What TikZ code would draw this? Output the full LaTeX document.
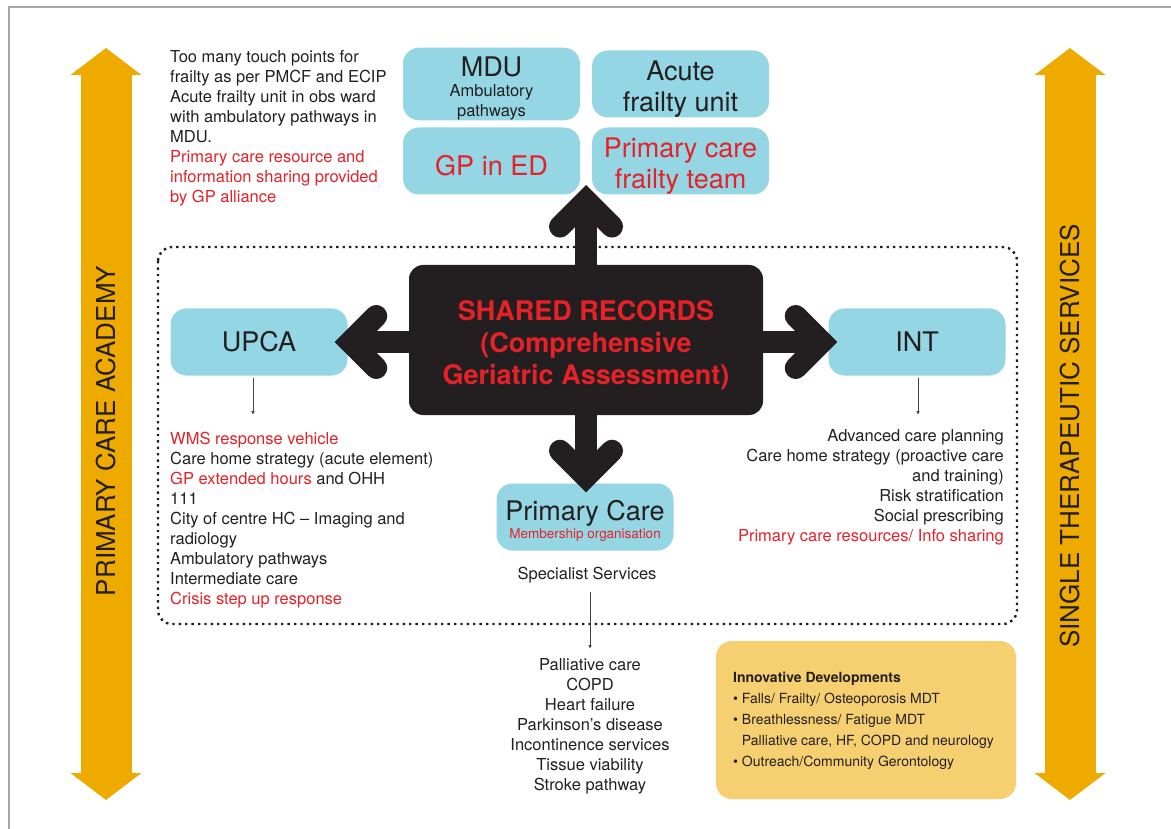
\documentclass[tikz,border=0pt]{standalone}
\usepackage{fontspec}
\setmainfont{TeX Gyre Heros}
\usepackage{xcolor}
\usetikzlibrary{positioning, calc, arrows.meta}

\definecolor{boxblue}{RGB}{148,214,227}
\definecolor{pcred}{RGB}{230,33,40}
\definecolor{inkblack}{RGB}{35,31,32}
\definecolor{gold}{RGB}{239,170,0}
\definecolor{devyellow}{RGB}{246,208,112}

\newcommand{\notefont}{\fontsize{16.5}{20}\selectfont}
\newcommand{\titlefont}{\fontsize{27}{31}\selectfont}
\newcommand{\subfont}{\fontsize{16.5}{20}\selectfont}
\newcommand{\hubfont}{\fontsize{27}{32}\selectfont\bfseries}
\newcommand{\devfont}{\fontsize{14}{21}\selectfont}
\newcommand{\tstrut}{\rule{0pt}{29pt}}

\begin{document}
\begin{tikzpicture}[
    x=1pt, y=-1pt,
    box/.style={fill=boxblue, rounded corners=16pt, inner sep=0pt, align=center, text=inkblack, font=\titlefont, minimum width=177pt, minimum height=67pt},
    hub/.style={fill=inkblack, rounded corners=14pt, inner sep=0pt, minimum width=354pt, minimum height=150pt},
    hubtext/.style={inner sep=0pt, align=center, text=pcred, font=\hubfont},
    note/.style={inner sep=0pt, text=inkblack, font=\notefont},
    side/.style={inner sep=0pt, text=inkblack, font=\fontsize{26}{30}\selectfont, rotate=90},
    bigarr/.style={draw=inkblack, line width=22pt, -{Straight Barb[length=26pt, width=52pt, line width=22pt, line cap=round, line join=miter]}},
    thinarr/.style={draw=inkblack!85, line width=0.8pt, -{Latex[length=4pt, width=3.5pt]}},
    goldarr/.style={draw=gold, line width=51pt, {Triangle[length=27pt, width=71pt, line width=0pt]}-{Triangle[length=27pt, width=71pt, line width=0pt]}},
    dotframe/.style={draw=inkblack, line width=2.4pt, dash pattern=on 2.4pt off 4pt, rounded corners=14pt},
]
\useasboundingbox (0,0) rectangle (1171,829);

% page frame
\draw[gray!70, line width=1.2pt] (1171,7) -- (9,7) -- (9,829);

% side arrows
\coordinate (pcaTop) at (106,48);
\coordinate (pcaBot) at (106,800);
\draw[goldarr] (pcaBot) -- (pcaTop);
\node[side] (pca) at (106,431) {PRIMARY CARE ACADEMY};

\coordinate (stsTop) at (1070,48);
\coordinate (stsBot) at (1070,800);
\draw[goldarr] (stsBot) -- (stsTop);
\node[side] (sts) at (1070,436) {SINGLE THERAPEUTIC SERVICES};

% shared records area
\draw[dotframe] (158,247) rectangle (1017,624);

% acute side
\node[note, anchor=north west, align=left] (touch) at (170,50)
  {Too many touch points for\\frailty as per PMCF and ECIP\\Acute frailty unit in obs ward\\with ambulatory pathways in\\MDU.\\
   \textcolor{pcred}{Primary care resource and}\\\textcolor{pcred}{information sharing provided}\\\textcolor{pcred}{by GP alliance}};

\node[box] (mdu) at (491.5,84) {\tstrut MDU\\[-11pt]\subfont Ambulatory\\[-11pt]\subfont pathways};
\node[box] (afu) at (680.5,84) {\tstrut Acute\\frailty unit};
\node[box, text=pcred] (gped) at (491.5,161) {\tstrut GP in ED};
\node[box, text=pcred] (pcft) at (680.5,161) {\tstrut Primary care\\frailty team};

% hub
\node[box] (upca) at (259,342) {UPCA};
\node[box] (int) at (917,342) {INT};
\node[box] (pcare) at (585,517) {\rule{0pt}{27pt}Primary Care\\[-13pt]{\fontsize{13.5}{16}\selectfont\textcolor{pcred}{Membership organisation}}};

\coordinate (uptip) at (586,185);
\node[hub] (shared) at (586,340) {};
\node[hubtext] (sharedtxt) at (586,345) {SHARED RECORDS\\(Comprehensive\\Geriatric Assessment)};
\draw[bigarr] (shared.north) -- (uptip);
\draw[bigarr] (upca.east -| shared.west) -- (upca.east) [shorten >=-13pt];
\draw[bigarr] (int.west -| shared.east) -- (int.west) [shorten >=-9pt];
\draw[bigarr] (shared.south) -- (shared.south |- pcare.north) [shorten >=-9pt];

% lists
\node[note, anchor=north west, align=left] (upcalist) at (170,432)
  {\textcolor{pcred}{WMS response vehicle}\\Care home strategy (acute element)\\\textcolor{pcred}{GP extended hours} and OHH\\111\\
   City of centre HC -- Imaging and\\radiology\\Ambulatory pathways\\Intermediate care\\\textcolor{pcred}{Crisis step up response}};
\draw[thinarr, shorten <=2pt, shorten >=17pt] ([xshift=-6pt]upca.south) -- ([xshift=-6pt]upca.south |- upcalist.north);

\node[note, anchor=north east, align=right] (intlist) at (1004,429)
  {Advanced care planning\\Care home strategy (proactive care\\and training)\\Risk stratification\\Social prescribing\\
   \textcolor{pcred}{Primary care resources/ Info sharing}};
\draw[thinarr, shorten <=2pt, shorten >=14pt] ([xshift=1pt]int.south) -- ([xshift=1pt]int.south |- intlist.north);

\node[note] (spec) at (587,575) {Specialist Services};
\node[note, anchor=north, align=center] (speclist) at (590,658)
  {Palliative care\\COPD\\Heart failure\\Parkinson's disease\\Incontinence services\\Tissue viability\\Stroke pathway};
\draw[thinarr, shorten <=9pt, shorten >=9pt] ([xshift=3pt]spec.south) -- ([xshift=3pt]spec.south |- speclist.north);

% innovative developments
\node[fill=devyellow, rounded corners=16pt, minimum width=300pt, minimum height=158pt] (innov) at (866,720) {};
\node[inner sep=0pt, anchor=north west, align=left, text=inkblack, font=\devfont] (innovtxt) at (733,672)
  {\textbf{Innovative Developments}\\\textbullet\ Falls/ Frailty/ Osteoporosis MDT\\\textbullet\ Breathlessness/ Fatigue MDT\\
   \phantom{\textbullet\ }Palliative care, HF, COPD and neurology\\\textbullet\ Outreach/Community Gerontology};

\end{tikzpicture}
\end{document}
